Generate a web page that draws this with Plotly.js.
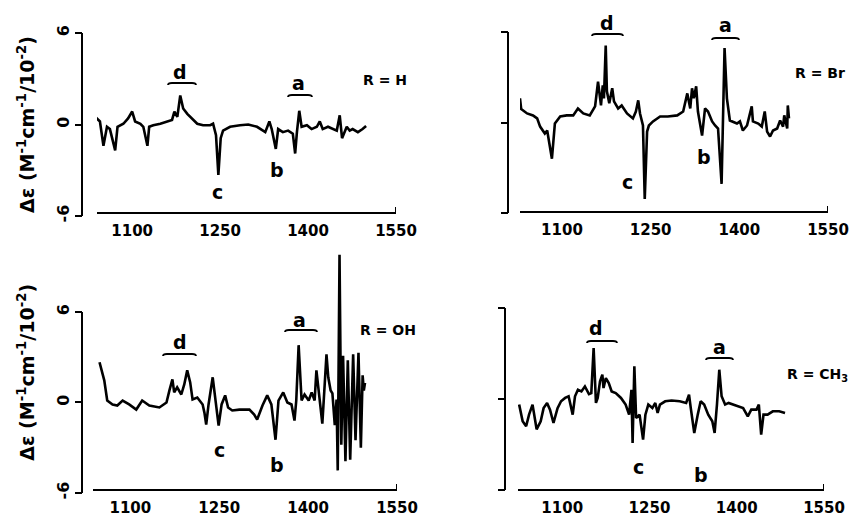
<!DOCTYPE html>
<html><head><meta charset="utf-8">
<script src="https://cdn.plot.ly/plotly-3.0.1.min.js"></script>
<style>html,body{margin:0;padding:0;background:#fff}#chart{width:861px;height:519px}</style>
</head><body><div id="chart"></div>
<script>
// ---- data (wavenumber, cm^-1 ; delta epsilon x 10^2) ----
const wnH = [1037,1045,1051,1057,1062,1071,1075,1085,1093,1100,1105,1114,1119,1126,1129,1136,1148,1160,1168,1172,1177,1182,1187,1194,1202,1211,1221,1233,1238,1243,1247,1251,1255,1267,1284,1298,1313,1327,1334,1338,1345,1349,1357,1366,1374,1378,1381,1385,1389,1398,1406,1415,1420,1425,1434,1443,1449,1454,1458,1466,1471,1476,1485,1493,1499];
const deH = [0.5,0.2,-1.4,-0.15,-0.3,-1.7,-0.15,0.05,0.4,0.85,0.2,0.05,-0.15,-1.4,-0.15,-0.05,0.05,0.2,0.3,0.85,0.5,1.9,1.05,0.7,0.4,0.05,-0.05,-0.05,0.05,-0.7,-3.3,-0.9,-0.4,-0.15,-0.05,0,-0.15,-0.5,0.2,-0.3,-1.6,-0.3,-0.5,-0.4,-0.6,-1.9,-0.5,0.9,-0.15,-0.05,-0.3,-0.15,0.2,-0.3,-0.15,-0.3,-0.4,0.6,-0.9,-0.15,-0.4,-0.3,-0.5,-0.3,-0.1];

const wnBr = [1029,1031,1041,1051,1058,1063,1071,1075,1083,1088,1097,1108,1119,1127,1136,1147,1156,1161,1166,1169,1171,1174,1176,1180,1185,1188,1195,1201,1210,1220,1225,1229,1232,1237,1240,1244,1247,1254,1266,1279,1295,1305,1312,1317,1320,1323,1327,1330,1337,1342,1347,1354,1359,1364,1370,1375,1379,1384,1396,1401,1406,1413,1416,1421,1423,1432,1438,1443,1447,1452,1457,1464,1469,1474,1476,1481,1482,1484];
const deBr = [1.6,0.9,0.6,0.47,0.27,-0.27,-0.73,-0.53,-2.4,-0.07,0.4,0.47,0.47,0.93,0.6,0.47,1.07,2.7,1.13,2.47,1.6,5.1,2.07,1.27,2.27,1.4,0.93,1.13,0.6,0.27,0.73,1.47,0.6,-0.2,-5.07,-0.6,-0.2,0.07,0.4,0.4,0.47,0.73,1.93,0.93,2.27,1.6,2.4,0.73,-0.87,0.93,0.73,0.07,-0.2,-0.4,-4.07,4.93,1.6,0.13,-0.07,0.07,-0.53,-0.2,0.27,1.07,0.07,-0.07,-0.27,0.73,-0.6,-0.93,-0.53,-0.4,0.13,-0.27,0.47,-0.4,1.13,0.27];

const wnOH = [1048,1056,1061,1070,1078,1087,1098,1110,1120,1132,1149,1161,1166,1171,1174,1179,1186,1191,1196,1201,1205,1213,1222,1225,1228,1232,1239,1244,1249,1254,1260,1265,1272,1284,1301,1309,1314,1323,1331,1338,1345,1350,1358,1365,1372,1377,1380,1384,1389,1394,1401,1406,1411,1414,1419,1424,1428,1431,1434,1438,1441,1445,1448,1450,1453,1456,1459,1463,1467,1471,1476,1480,1485,1489,1492,1494,1496];
const deOH = [2.67,1.47,0.13,-0.13,-0.2,0.13,-0.13,-0.47,0.13,-0.2,-0.33,0,0.8,1.53,0.67,1.0,0.53,1.2,2.13,1.33,0.2,0.33,-0.13,-0.67,-1.47,-0.13,1.67,-0.13,-1.53,-0.13,0.47,-0.33,-0.53,-0.47,-0.47,-0.8,-1.13,-0.2,0.47,-0.13,-2.47,0.13,0.67,0,-0.13,-1.2,0.13,3.8,0.13,0.53,0.13,0.67,0.13,2.13,0.13,-1.4,1.2,3.2,1.67,0.8,0.6,-1.5,0.2,-4.5,9.8,-2.8,3.1,-3.9,2.8,-3.8,3.2,-2.5,3.3,-3.0,1.8,0.8,1.3];

const wnMe = [1026,1032,1038,1043,1049,1056,1063,1068,1074,1079,1085,1092,1098,1105,1111,1118,1122,1127,1133,1139,1146,1150,1154,1158,1161,1165,1169,1171,1175,1180,1185,1192,1201,1209,1215,1219,1221,1224,1227,1233,1239,1243,1248,1255,1260,1264,1268,1277,1288,1302,1313,1318,1321,1327,1333,1338,1344,1351,1358,1362,1366,1370,1374,1380,1386,1394,1403,1411,1419,1425,1434,1438,1442,1446,1453,1462,1473,1483];
const deMe = [-0.37,-1.47,-1.8,-1.03,-0.37,-2.0,-1.47,-0.6,-0.27,-0.7,-1.58,-0.6,-0.15,0.07,0.18,-1.03,0.18,0.61,0.5,0.83,0.33,0.39,3.36,-0.26,0.07,1.16,1.6,0.72,1.38,1.05,0.5,0.39,0.07,-0.37,-1.03,0.61,-2.9,2.15,-1.25,-1.03,-2.68,-1.03,-0.37,-0.6,-0.26,-0.92,-0.37,-0.15,-0.1,-0.15,-0.26,0.28,-0.6,-2.24,-1.03,-0.15,-0.37,-1.03,-1.47,-2.24,-0.37,1.93,0.18,-0.37,-0.26,-0.37,-0.48,-0.6,-1.14,-0.7,-0.7,-0.37,-2.35,-1.03,-1.03,-0.81,-0.81,-0.92];

const xTickVals = [1100, 1250, 1400, 1550];
const yTickVals = [-6, 0, 6];
const yTickText = ['-6', '0', '6'];
const panelNames = ['R = H', 'R = Br', 'R = OH', 'R = CH<sub>3</sub>'];
const yTitle = 'Δε (M<sup>-1</sup>cm<sup>-1</sup>/10<sup>-2</sup>)';

// ---- geometry (pixels) ----
const W = 861, H = 519;
const fx = p => p / W, fy = p => 1 - p / H;
const FONT = 'DejaVu Sans, Verdana, sans-serif';

const panels = [
  {wn: wnH,  de: deH,  xl: 97,  xr: 396, xmin: 1040, yAx: 82,  y6: 33,  yM6: 216, xAx: 213, ymax: 6,  lab: true,
   L: {d:[180,72], a:[298,83], c:[218,192], b:[277,170], R:[385,80]}, B: {d:[168,196,83], a:[288,312,95]}},
  {wn: wnBr, de: deBr, xl: 520, xr: 828, xmin: 1029, yAx: 508, y6: 32,  yM6: 213, xAx: 212, ymax: 6,  lab: false,
   L: {d:[607,23], a:[725,25], c:[627,182], b:[704,157], R:[820,73]}, B: {d:[592,623,34], a:[712,739,38]}},
  {wn: wnOH, de: deOH, xl: 93,  xr: 397, xmin: 1037, yAx: 82,  y6: 312, yM6: 493, xAx: 490, ymax: 10, lab: true,
   L: {d:[180,342], a:[299,320], c:[219,450], b:[277,465], R:[388,330]}, B: {d:[163,196,354], a:[285,317,330]}},
  {wn: wnMe, de: deMe, xl: 518, xr: 824, xmin: 1024, yAx: 505, y6: 308, yM6: 490, xAx: 490, ymax: 6,  lab: false,
   L: {d:[596,328], a:[719,347], c:[638,467], b:[701,475], R:[817,375]}, B: {d:[587,617,341], a:[706,733,358]}}
];

const data = [], shapes = [], annotations = [];
const layout = {
  width: W, height: H, margin: {l:0, r:0, t:0, b:0},
  paper_bgcolor: '#fff', plot_bgcolor: 'rgba(0,0,0,0)',
  showlegend: false, font: {family: FONT, color: '#000', size: 15, weight: 'bold'}
};

panels.forEach((p, i) => {
  const n = i === 0 ? '' : String(i + 1);
  const xa = 'x' + n, ya = 'y' + n;
  const pxPerUnit = (p.yM6 - p.y6) / 12;
  const yTopPx = p.yM6 - (p.ymax + 6) * pxPerUnit;

  data.push({type: 'scatter', mode: 'lines', x: p.wn, y: p.de, xaxis: xa, yaxis: ya,
    line: {color: '#000', width: 2.6}, hoverinfo: 'skip', showlegend: false});

  layout['xaxis' + n] = {
    domain: [fx(p.xl), fx(p.xr)], range: [p.xmin, 1550], anchor: 'free', position: fy(p.xAx),
    showline: true, linecolor: '#000', linewidth: 2, ticks: '', tickvals: xTickVals,
    ticklabelstandoff: 4, showgrid: false, zeroline: false,
    tickfont: {family: FONT, size: 15, color: '#000', weight: 'bold'}
  };
  const yax = {
    domain: [fy(p.yM6), fy(yTopPx)], range: [-6, p.ymax], anchor: 'free', position: fx(p.yAx),
    showline: false, ticks: 'outside', ticklen: 7, tickwidth: 2, tickcolor: '#000',
    tickvals: yTickVals, showticklabels: p.lab,
    showgrid: false, zeroline: false
  };
  if (p.lab) {
    yax.ticktext = yTickText;
    yax.tickangle = -90;
    yax.tickfont = {family: FONT, size: 16, color: '#000', weight: 'bold'};
    yax.title = {text: yTitle, standoff: 12, font: {family: FONT, size: 19, color: '#000', weight: 'bold'}};
  }
  layout['yaxis' + n] = yax;

  // y axis bracket line (between -6 and 6)
  shapes.push({type: 'line', xref: 'paper', yref: ya, x0: fx(p.yAx), x1: fx(p.yAx), y0: -6, y1: 6,
    line: {color: '#000', width: 2}});
  // small upward tick at the right end of the x axis
  shapes.push({type: 'line', xref: xa, yref: 'paper', x0: 1550, x1: 1550, y0: fy(p.xAx), y1: fy(p.xAx - 6),
    line: {color: '#000', width: 2}});

  // band overline brackets
  ['d', 'a'].forEach(k => {
    const [x0, x1, y] = p.B[k];
    const path = `M${fx(x0)},${fy(y + 2)} Q${fx(x0)},${fy(y)} ${fx(x0 + 4)},${fy(y)} L${fx(x1 - 4)},${fy(y)} Q${fx(x1)},${fy(y)} ${fx(x1)},${fy(y + 2)}`;
    shapes.push({type: 'path', xref: 'paper', yref: 'paper', path: path, line: {color: '#000', width: 1.8}});
  });

  ['a', 'b', 'c', 'd'].forEach(k => {
    const [x, y] = p.L[k];
    annotations.push({xref: 'paper', yref: 'paper', x: fx(x), y: fy(y), text: k, showarrow: false,
      xanchor: 'center', yanchor: 'middle', font: {family: FONT, size: 19, color: '#000', weight: 'bold'}});
  });
  const [rx, ry] = p.L.R;
  annotations.push({xref: 'paper', yref: 'paper', x: fx(rx), y: fy(ry), text: panelNames[i], showarrow: false,
    xanchor: 'center', yanchor: 'middle', font: {family: FONT, size: 14, color: '#000', weight: 'bold'}});
});

layout.shapes = shapes;
layout.annotations = annotations;
Plotly.newPlot('chart', data, layout, {staticPlot: true, displayModeBar: false});
</script>
</body></html>
